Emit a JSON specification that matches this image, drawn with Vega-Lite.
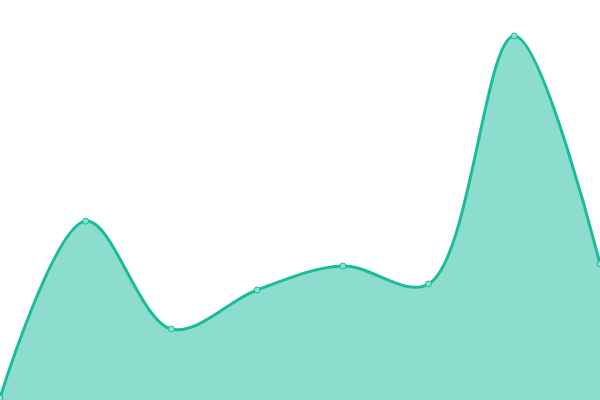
{
  "$schema": "https://vega.github.io/schema/vega-lite/v6.json",
  "autosize": {"type": "none"},
  "width": 600,
  "height": 400,
  "padding": 0,
  "config": {"view": {"stroke": null}},
  "data": {
    "values": [
      {"i": 0, "v": 2},
      {"i": 1, "v": 179},
      {"i": 2, "v": 71},
      {"i": 3, "v": 110},
      {"i": 4, "v": 134},
      {"i": 5, "v": 116},
      {"i": 6, "v": 364},
      {"i": 7, "v": 136}
    ]
  },
  "encoding": {
    "x": {"field": "i", "type": "quantitative", "axis": null, "scale": {"domain": [0, 7], "nice": false, "zero": false}},
    "y": {"field": "v", "type": "quantitative", "axis": null, "scale": {"domain": [0, 400], "nice": false}}
  },
  "layer": [
    {"mark": {"type": "area", "interpolate": "catmull-rom", "color": "#1abc9c", "opacity": 0.5}},
    {"mark": {"type": "line", "interpolate": "catmull-rom", "color": "#1abc9c", "strokeWidth": 3}},
    {"mark": {"type": "point", "filled": true, "size": 36, "fill": "#89e0cf", "stroke": "#1abc9c", "strokeWidth": 1, "opacity": 1}}
  ]
}
